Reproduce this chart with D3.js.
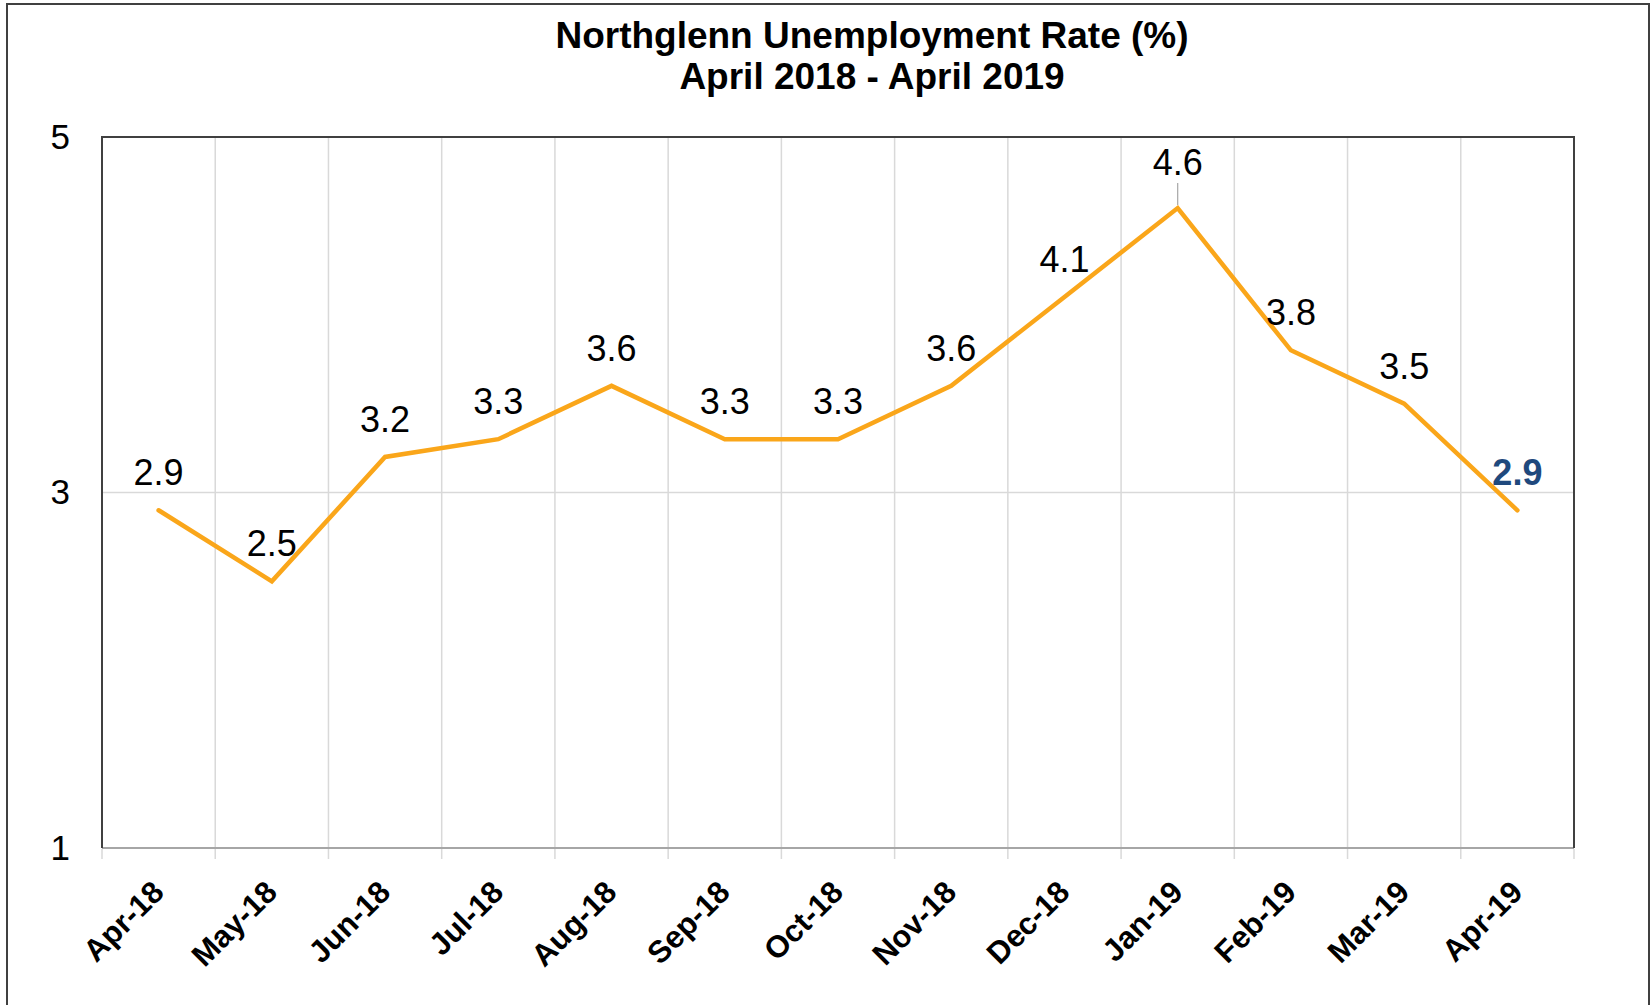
<!DOCTYPE html>
<html>
<head>
<meta charset="utf-8">
<script src="https://cdn.jsdelivr.net/npm/d3@7"></script>
<style>
  body { margin: 0; background: #fff; }
  text { font-family: "Liberation Sans", Arial, sans-serif; }
</style>
</head>
<body>
<div id="chart"></div>
<script>
// data
var months = ["Apr-18", "May-18", "Jun-18", "Jul-18", "Aug-18", "Sep-18", "Oct-18",
              "Nov-18", "Dec-18", "Jan-19", "Feb-19", "Mar-19", "Apr-19"];
var rates = [2.9, 2.5, 3.2, 3.3, 3.6, 3.3, 3.3, 3.6, 4.1, 4.6, 3.8, 3.5, 2.9];
var yTicks = [1, 3, 5];
var titleLines = ["Northglenn Unemployment Rate (%)", "April 2018 - April 2019"];

var svgWidth = 1652;
var svgHeight = 1005;
var plotLeft = 102;
var plotRight = 1574;
var plotTop = 137;
var plotBottom = 848;
var lineColor = "#faa61a";

var data = months.map((m, i) => ({month: m, rate: rates[i], i: i}));

var svg = d3.select("#chart")
    .append("svg")
    .attr("width", svgWidth)
    .attr("height", svgHeight);

// outer chart border (bottom edge runs off the picture)
svg.append("rect")
    .attr("x", 7)
    .attr("y", 4)
    .attr("width", 1642)
    .attr("height", 1020)
    .attr("fill", "#fff")
    .attr("stroke", "#404040")
    .attr("stroke-width", 2);

var xScale = d3.scaleBand()
    .domain(months)
    .range([plotLeft, plotRight])
    .padding(0);

var yScale = d3.scaleLinear()
    .domain([1, 5])
    .range([plotBottom, plotTop]);

// title
svg.append("text")
    .attr("x", 872)
    .attr("y", 48)
    .attr("text-anchor", "middle")
    .attr("font-size", "37px")
    .attr("font-weight", "bold")
    .selectAll("tspan")
    .data(titleLines)
    .enter()
    .append("tspan")
    .attr("x", 872)
    .attr("dy", (d, i) => i == 0 ? 0 : 41)
    .text(d => d);

// vertical gridlines at category edges
var edges = months.map(m => xScale(m)).concat([plotRight]);
svg.append("g").selectAll("line")
    .data(edges.slice(1, -1))
    .enter()
    .append("line")
    .attr("x1", d => d)
    .attr("x2", d => d)
    .attr("y1", plotTop)
    .attr("y2", plotBottom)
    .attr("stroke", "#d9d9d9")
    .attr("stroke-width", 1.5);

// horizontal gridlines
svg.append("g").selectAll("line")
    .data(yTicks)
    .enter()
    .append("line")
    .attr("x1", plotLeft)
    .attr("x2", plotRight)
    .attr("y1", d => yScale(d))
    .attr("y2", d => yScale(d))
    .attr("stroke", "#d9d9d9")
    .attr("stroke-width", 1.5);

// x axis: gray line with small ticks at category edges
var xAxisGroup = svg.append("g")
    .attr("transform", `translate(0,${plotBottom})`);
xAxisGroup.append("line")
    .attr("x1", plotLeft)
    .attr("x2", plotRight)
    .attr("stroke", "#a6a6a6")
    .attr("stroke-width", 2);
xAxisGroup.selectAll(".tick")
    .data(edges)
    .enter()
    .append("line")
    .attr("class", "tick")
    .attr("x1", d => d)
    .attr("x2", d => d)
    .attr("y1", 1)
    .attr("y2", 11)
    .attr("stroke", "#d9d9d9")
    .attr("stroke-width", 1.5);

xAxisGroup.selectAll("text")
    .data(months)
    .enter()
    .append("text")
    .attr("transform", d => `translate(${xScale(d) + xScale.bandwidth() / 2 + 7},46) rotate(-45)`)
    .attr("text-anchor", "end")
    .attr("font-size", "31px")
    .attr("font-weight", "bold")
    .attr("fill", "#000")
    .text(d => d);

// plot frame: dark on left, top and right
svg.append("path")
    .attr("d", `M${plotLeft},${plotBottom}V${plotTop}H${plotRight}V${plotBottom}`)
    .attr("fill", "none")
    .attr("stroke", "#404040")
    .attr("stroke-width", 2);

// y axis labels
var yAxisCall = d3.axisLeft(yScale)
    .tickValues(yTicks)
    .tickSize(0)
    .tickPadding(32)
    .tickFormat(d3.format("d"));
var yAxisGroup = svg.append("g")
    .attr("transform", `translate(${plotLeft},0)`)
    .call(yAxisCall);
yAxisGroup.select(".domain").remove();
yAxisGroup.selectAll("text")
    .attr("font-size", "35px")
    .attr("font-family", "Liberation Sans, Arial, sans-serif")
    .attr("fill", "#000");

// the line
var line = d3.line()
    .x(d => xScale(d.month) + xScale.bandwidth() / 2)
    .y(d => yScale(d.rate));

svg.append("path")
    .datum(data)
    .attr("d", line)
    .attr("fill", "none")
    .attr("stroke", lineColor)
    .attr("stroke-width", 4.5)
    .attr("stroke-linecap", "round")
    .attr("stroke-linejoin", "miter");

// data labels; the peak label sits higher with a leader line
var peak = d3.max(rates);
var last = data.length - 1;

svg.append("g").selectAll("line")
    .data(data.filter(d => d.rate == peak))
    .enter()
    .append("line")
    .attr("x1", d => xScale(d.month) + xScale.bandwidth() / 2)
    .attr("x2", d => xScale(d.month) + xScale.bandwidth() / 2)
    .attr("y1", d => yScale(d.rate) - 25)
    .attr("y2", d => yScale(d.rate) - 3)
    .attr("stroke", "#a6a6a6")
    .attr("stroke-width", 1.2);

svg.append("g").selectAll("text")
    .data(data)
    .enter()
    .append("text")
    .attr("x", d => xScale(d.month) + xScale.bandwidth() / 2)
    .attr("y", d => yScale(d.rate) - (d.rate == peak ? 33 : 25))
    .attr("text-anchor", "middle")
    .attr("font-size", "36px")
    .attr("font-weight", d => d.i == last ? "bold" : "normal")
    .attr("fill", d => d.i == last ? "#1f497d" : "#000")
    .text(d => d3.format(".1f")(d.rate));
</script>
</body>
</html>
